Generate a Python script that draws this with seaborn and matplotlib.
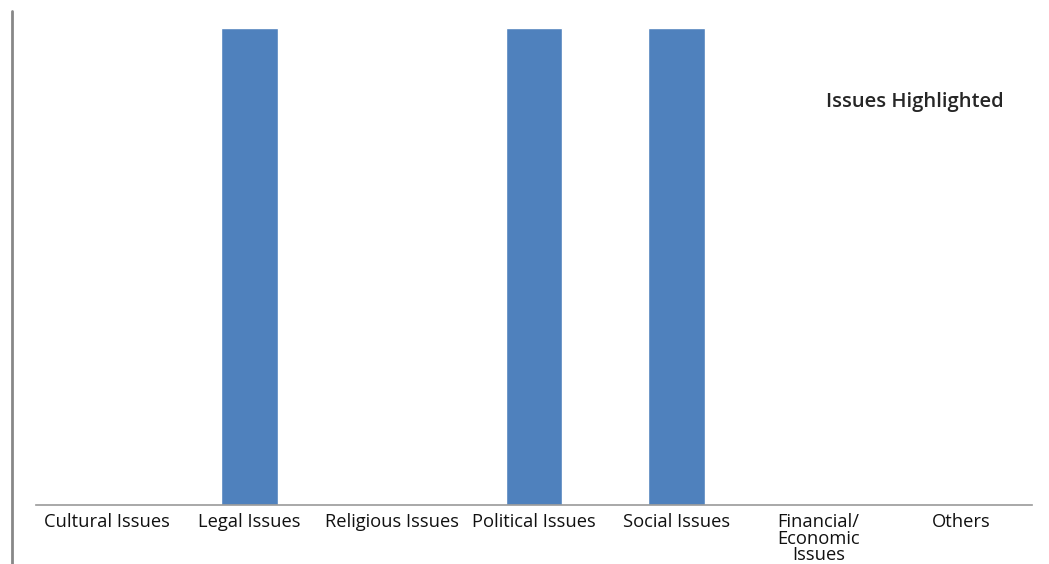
import matplotlib
matplotlib.use("Agg")
import matplotlib.pyplot as plt
import matplotlib.lines as mlines
import matplotlib.patches as mpatches
import seaborn as sns
import pandas as pd
import numpy as np

# --- Data ---
categories = ["Cultural Issues", "Legal Issues", "Religious Issues", "Political Issues",
              "Social Issues", "Financial/\nEconomic\nIssues", "Others"]
values = [0, 1, 0, 1, 1, 0, 0]
series_name = "Issues Highlighted"

df = pd.DataFrame({"category": categories, "value": values})

sns.set_style("white")
plt.rcParams['font.family'] = ['Open Sans', 'DejaVu Sans']

fig = plt.figure(figsize=(10.49, 5.64), dpi=100)
ax = fig.add_axes([36 / 1049, 59 / 564, 996 / 1049, 477 / 564])

sns.barplot(data=df, x="category", y="value", color="#4F81BD", width=0.4,
            saturation=1, ax=ax)

ax.set_ylim(0, 1)
ax.set_xlim(-0.5, len(categories) - 0.5)
ax.set_xlabel("")
ax.set_ylabel("")
ax.set_yticks([])

# category labels, ticks at boundaries
ax.tick_params(axis="x", which="major", length=0, labelsize=13.2, pad=6, labelcolor="#111111")
for lbl in ax.get_xticklabels():
    lbl.set_linespacing(0.88)
ax.set_xticks(np.arange(-0.5, len(categories)), minor=True)
ax.tick_params(axis="x", which="minor", length=4, width=1, color="#999999", direction="out")

for side in ["top", "right", "left"]:
    ax.spines[side].set_visible(False)
ax.spines["bottom"].set_color("#999999")
ax.spines["bottom"].set_linewidth(1.2)

# legend with no visible key
blank = mpatches.Patch(facecolor="none", edgecolor="none")
ax.legend([blank], [series_name], loc="upper left", bbox_to_anchor=(0.783, 0.887),
          frameon=False, handlelength=0, handletextpad=0, borderpad=0,
          prop={"size": 14.5, "weight": "semibold"})

# gray border line at the far left of the image
fig.add_artist(mlines.Line2D([12 / 1049, 12 / 1049], [0, 1 - 11 / 564],
                             color="#888888", linewidth=2))

plt.savefig("out.png", dpi=100)
